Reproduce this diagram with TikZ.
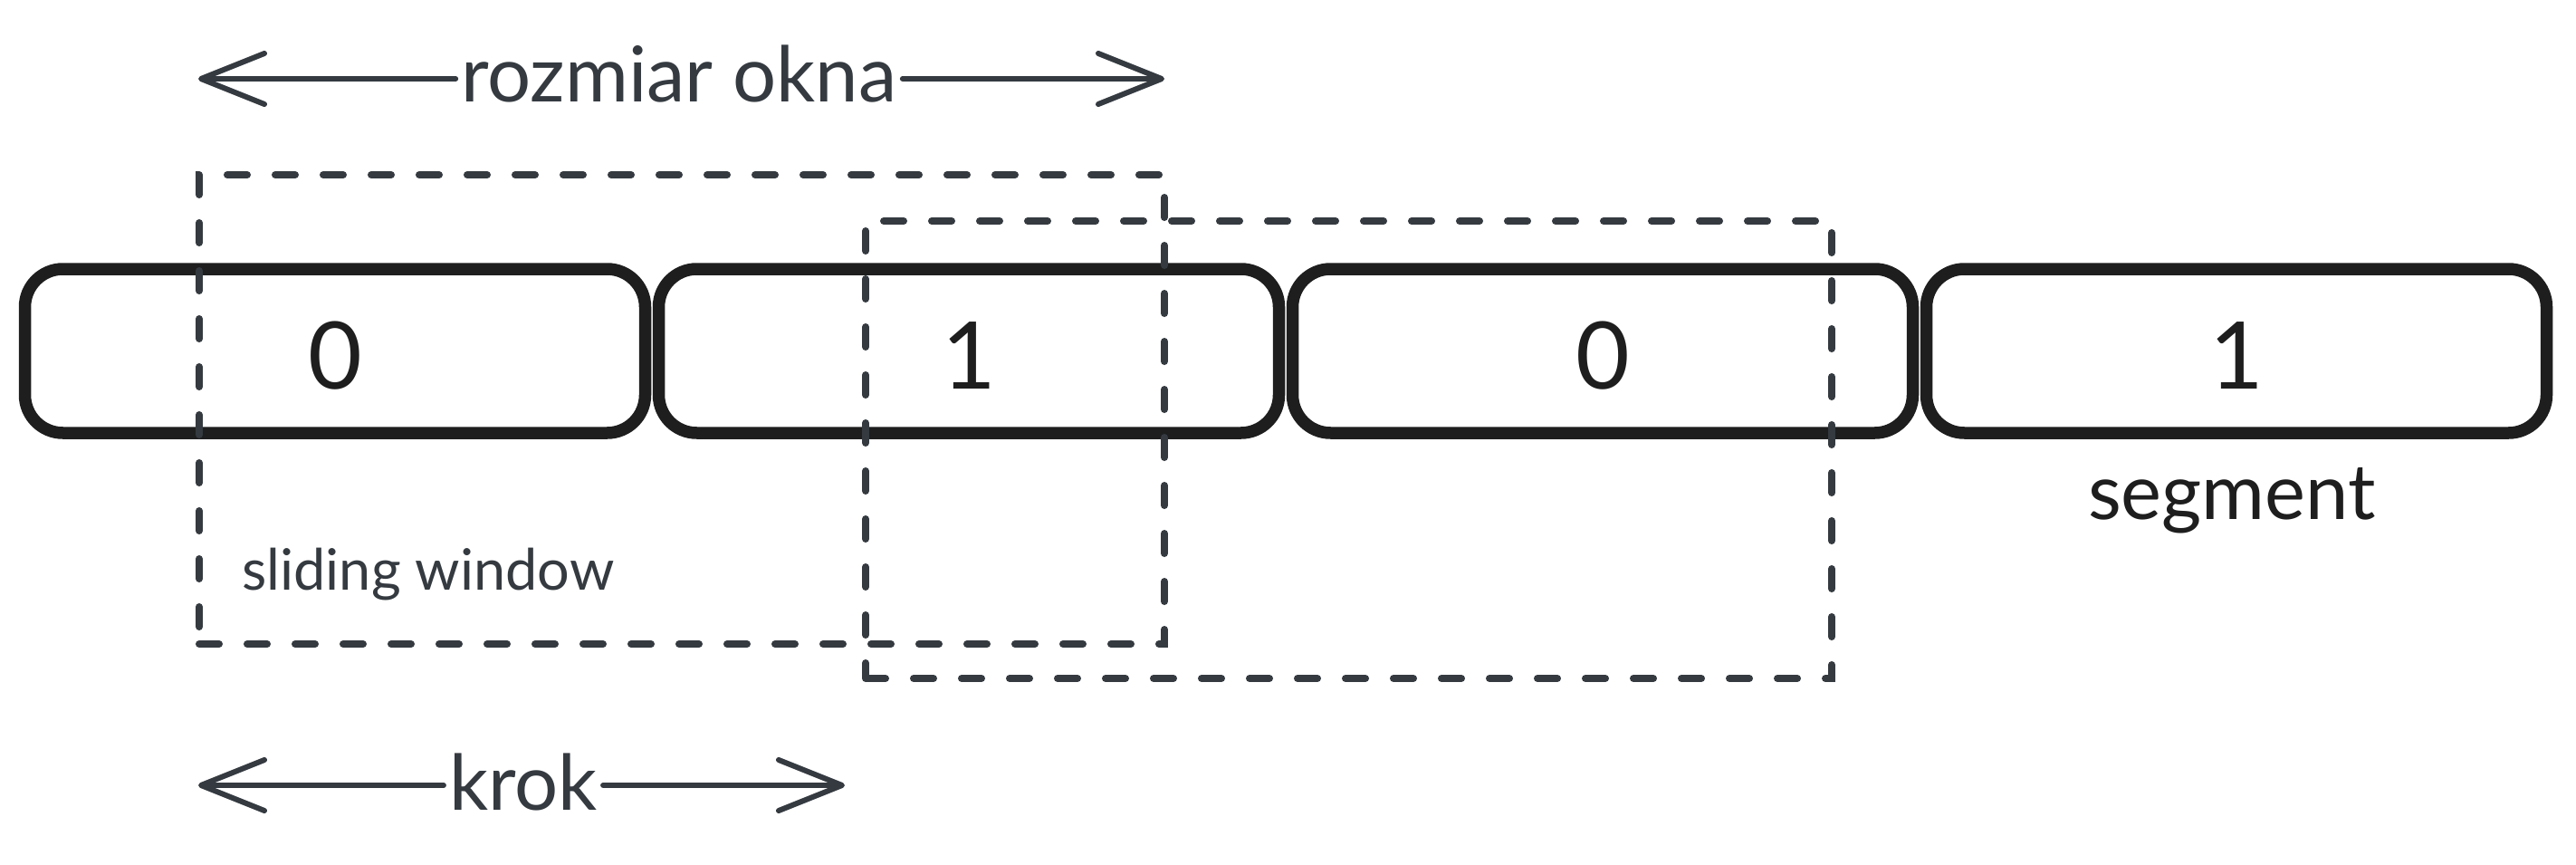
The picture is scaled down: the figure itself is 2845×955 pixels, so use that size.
\documentclass[tikz,border=0pt]{standalone}
\usepackage{fontspec}
\setmainfont{Lato}
\usetikzlibrary{arrows.meta}
\definecolor{ink}{HTML}{1E1E1E}
\definecolor{slate}{HTML}{343A40}
\begin{document}
\begin{tikzpicture}[x=1pt,y=-1pt,
  segbox/.style={draw=ink, line width=13.5pt, rounded corners=42pt,
    minimum width=685pt, minimum height=181pt, inner sep=0pt, text=ink,
    font=\fontsize{103}{110}\selectfont},
  digitlbl/.style={inner sep=0pt, text=ink, font=\fontsize{103}{110}\selectfont},
  winbox/.style={draw=slate, line width=8pt, line cap=round,
    dash pattern=on 22pt off 31pt, inner sep=0pt},
  biglbl/.style={inner sep=0pt, text=slate, font=\fontsize{85}{100}\selectfont},
  smalllbl/.style={inner sep=0pt, text=slate, font=\fontsize{63}{76}\selectfont},
  dimline/.style={draw=slate, line width=6pt, line cap=round,
    -{Straight Barb[length=70pt,width=56pt,round]}}
]
\useasboundingbox (0,0) rectangle (2845,955);
% segments
\node[segbox] (s1) at (370,387.5) {};
\node[segbox] (s2) at (1070,387.5) {};
\node[segbox] (s3) at (1770,387.5) {};
\node[segbox] (s4) at (2470,387.5) {};
\node[digitlbl] (d1) at ([yshift=-5pt]s1.center) {0};
\node[digitlbl] (d2) at ([yshift=-5pt]s2.center) {1};
\node[digitlbl] (d3) at ([yshift=-5pt]s3.center) {0};
\node[digitlbl] (d4) at ([yshift=-5pt]s4.center) {1};
\node[inner sep=0pt, text=ink, font=\fontsize{85}{100}\selectfont, anchor=base] (seg) at (2465,573) {segment};
% sliding windows
\node[winbox, minimum width=1066pt, minimum height=518pt] (w1) at (753,452) {};
\node[winbox, minimum width=1067pt, minimum height=505pt] (w2) at (1489.5,496.5) {};
\node[smalllbl, anchor=base west] (sw) at (267,651) {sliding window};
% window size
\node[biglbl, anchor=base] (roz) at (750,113) {rozmiar okna};
\coordinate (rozL) at (219,87);
\coordinate (rozR) at (1286,87);
\coordinate (rozA) at ([xshift=-6pt]roz.west);
\coordinate (rozB) at ([xshift=6pt]roz.east);
\draw[dimline] (rozA |- rozL) -- (rozL);
\draw[dimline] (rozB |- rozR) -- (rozR);
% step
\node[biglbl, anchor=base] (krok) at (578,894) {krok};
\coordinate (krL) at (219,867);
\coordinate (krR) at (933,867);
\coordinate (krA) at ([xshift=-6pt]krok.west);
\coordinate (krB) at ([xshift=6pt]krok.east);
\draw[dimline] (krA |- krL) -- (krL);
\draw[dimline] (krB |- krR) -- (krR);
\end{tikzpicture}
\end{document}
